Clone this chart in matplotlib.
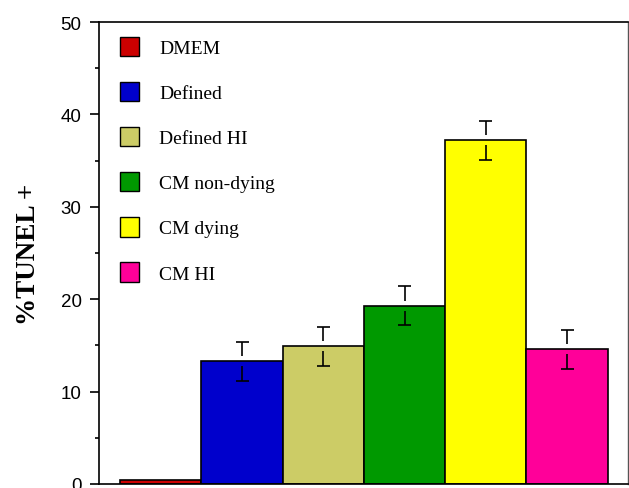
import matplotlib
matplotlib.use("Agg")
import matplotlib.pyplot as plt
from matplotlib.patches import Patch

labels = ["DMEM", "Defined", "Defined HI", "CM non-dying", "CM dying", "CM HI"]
values = [0.4, 13.3, 14.9, 19.3, 37.2, 14.6]
errors = [0.0, 2.1, 2.1, 2.1, 2.1, 2.1]
colors = ["#cc0000", "#0000cc", "#cccc66", "#009900", "#ffff00", "#ff0099"]

fig = plt.figure(figsize=(6.29, 4.89), dpi=100)
ax = fig.add_axes([99 / 629, 1 - 485 / 489, 529 / 629, 462 / 489])

x = list(range(len(values)))
ax.bar(x, values, width=1.0, color=colors, edgecolor="black", linewidth=1.2, zorder=2)

# error bars drawn as T above and inverted T below, with a gap at the bar top
gap = 0.55
cap = 0.08
for xi, v, e in zip(x, values, errors):
    if e <= 0:
        continue
    ax.vlines(xi, v + gap, v + e, color="black", linewidth=1.2, zorder=3)
    ax.vlines(xi, v - e, v - gap, color="black", linewidth=1.2, zorder=3)
    ax.hlines([v + e, v - e], xi - cap, xi + cap, color="black", linewidth=1.2, zorder=3)

ax.set_xlim(-0.76, 5.75)
ax.set_ylim(0, 50)
ax.set_xticks([])
ax.set_yticks([0, 10, 20, 30, 40, 50])
ax.set_yticks([5, 15, 25, 35, 45], minor=True)
ax.tick_params(axis="y", which="major", direction="out", length=6.5, width=1.2, pad=6,
               labelsize=13.5)
ax.tick_params(axis="y", which="minor", direction="out", length=3, width=1.2)
for lab in ax.get_yticklabels():
    lab.set_family("Liberation Sans")

for side in ["left", "bottom", "top"]:
    ax.spines[side].set_linewidth(1.2)
ax.spines["right"].set_linewidth(1.0)
ax.spines["right"].set_color("#555555")

ax.set_ylabel("%TUNEL +", family="Liberation Serif", fontweight="bold", fontsize=19.5)
ax.yaxis.set_label_coords(-0.109, 0.5)

handles = [Patch(facecolor=c, edgecolor="black", linewidth=1.0) for c in colors]
ax.legend(handles, labels, loc="upper left", frameon=False,
          prop={"family": "Liberation Serif", "size": 14},
          handlelength=1.0, handleheight=1.15, labelspacing=1.28,
          handletextpad=1.0, borderaxespad=0.0, bbox_to_anchor=(0.025, 0.985))

fig.savefig("out.png", dpi=100)
